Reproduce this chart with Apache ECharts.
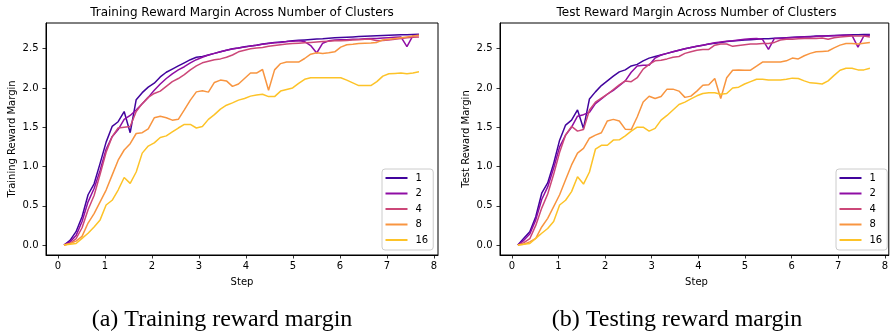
<!DOCTYPE html>
<html>
<head>
<meta charset="utf-8">
<script src="https://cdn.jsdelivr.net/npm/echarts@6/dist/echarts.min.js"></script>
<style>
html,body{margin:0;padding:0;background:#fff;}
#chart{width:891px;height:333px;}
</style>
</head>
<body>
<div id="chart"></div>
<script>
// ---------- data ----------
const clusterLabels = ['1', '2', '4', '8', '16'];
const steps = [0.128,0.256,0.384,0.512,0.640,0.768,0.896,1.024,1.152,1.280,
  1.408,1.536,1.664,1.792,1.920,2.048,2.176,2.304,2.432,2.560,
  2.688,2.816,2.944,3.072,3.200,3.328,3.456,3.584,3.712,3.840,
  3.968,4.096,4.224,4.352,4.480,4.608,4.736,4.864,4.992,5.120,
  5.248,5.376,5.504,5.632,5.760,5.888,6.016,6.144,6.272,6.400,
  6.528,6.656,6.784,6.912,7.040,7.168,7.296,7.424,7.552,7.680];
const xTicks = [0, 1, 2, 3, 4, 5, 6, 7, 8];
const yTicks = [0, 0.5, 1.0, 1.5, 2.0, 2.5];

const trainC1 = [0.00,0.06,0.17,0.36,0.64,0.78,1.04,1.31,1.51,1.57,
  1.70,1.43,1.85,1.94,2.01,2.06,2.14,2.20,2.24,2.28,
  2.32,2.36,2.39,2.40,2.42,2.44,2.46,2.48,2.50,2.51,
  2.525,2.535,2.545,2.56,2.57,2.578,2.585,2.592,2.60,2.606,
  2.612,2.617,2.622,2.627,2.633,2.638,2.642,2.646,2.65,2.654,
  2.658,2.661,2.664,2.667,2.67,2.673,2.676,2.678,2.681,2.684];
const trainC2 = [0.00,0.04,0.12,0.30,0.55,0.72,0.95,1.22,1.38,1.47,
  1.60,1.65,1.72,1.80,1.88,1.97,2.05,2.12,2.18,2.23,
  2.27,2.32,2.36,2.39,2.42,2.44,2.46,2.48,2.495,2.51,
  2.52,2.535,2.545,2.555,2.565,2.575,2.58,2.59,2.595,2.60,
  2.59,2.54,2.445,2.57,2.60,2.61,2.615,2.615,2.62,2.62,
  2.625,2.63,2.63,2.635,2.64,2.645,2.65,2.525,2.665,2.67];
const trainC4 = [0.00,0.02,0.08,0.22,0.45,0.63,0.90,1.18,1.38,1.49,
  1.50,1.51,1.70,1.80,1.88,1.93,1.96,2.02,2.08,2.12,
  2.17,2.23,2.28,2.32,2.34,2.36,2.37,2.39,2.42,2.46,
  2.48,2.50,2.51,2.515,2.53,2.54,2.55,2.56,2.565,2.57,
  2.575,2.58,2.585,2.59,2.595,2.60,2.60,2.605,2.61,2.615,
  2.62,2.62,2.60,2.605,2.61,2.62,2.63,2.64,2.645,2.65];
const trainC8 = [0.00,0.02,0.05,0.11,0.28,0.40,0.55,0.70,0.89,1.08,
  1.21,1.29,1.42,1.43,1.48,1.62,1.64,1.62,1.59,1.60,
  1.72,1.845,1.95,1.963,1.947,2.07,2.10,2.09,2.02,2.05,
  2.12,2.19,2.19,2.235,1.97,2.23,2.31,2.33,2.33,2.33,
  2.375,2.43,2.447,2.44,2.447,2.46,2.52,2.55,2.557,2.565,
  2.57,2.573,2.58,2.61,2.62,2.63,2.64,2.65,2.66,2.67];
const trainC16 = [0.00,0.01,0.02,0.085,0.15,0.23,0.32,0.51,0.57,0.70,
  0.86,0.785,0.93,1.17,1.26,1.30,1.37,1.39,1.44,1.49,
  1.535,1.535,1.49,1.51,1.60,1.66,1.73,1.78,1.81,1.845,
  1.866,1.896,1.91,1.92,1.89,1.89,1.96,1.98,2.00,2.057,
  2.11,2.13,2.13,2.13,2.13,2.13,2.13,2.10,2.065,2.03,
  2.03,2.03,2.08,2.15,2.18,2.185,2.19,2.18,2.19,2.205];

const testC1 = [0.00,0.085,0.17,0.36,0.66,0.79,1.04,1.335,1.527,1.59,
  1.72,1.485,1.86,1.95,2.03,2.09,2.15,2.205,2.23,2.28,
  2.30,2.345,2.38,2.40,2.42,2.44,2.46,2.48,2.50,2.515,
  2.53,2.545,2.56,2.57,2.58,2.59,2.597,2.604,2.61,2.615,
  2.62,2.625,2.628,2.632,2.636,2.64,2.644,2.648,2.652,2.656,
  2.66,2.663,2.666,2.669,2.672,2.674,2.676,2.678,2.68,2.682];
const testC2 = [0.00,0.06,0.14,0.32,0.58,0.74,0.98,1.25,1.40,1.50,
  1.64,1.66,1.69,1.80,1.86,1.92,1.97,2.03,2.09,2.20,
  2.28,2.29,2.29,2.38,2.42,2.44,2.46,2.48,2.50,2.515,
  2.53,2.545,2.56,2.575,2.585,2.595,2.60,2.61,2.62,2.625,
  2.63,2.62,2.49,2.63,2.63,2.635,2.64,2.645,2.65,2.65,
  2.655,2.66,2.66,2.665,2.668,2.67,2.67,2.52,2.665,2.67];
const testC4 = [0.00,0.03,0.08,0.25,0.47,0.65,0.90,1.18,1.40,1.51,
  1.45,1.47,1.72,1.82,1.87,1.92,1.98,2.04,2.09,2.08,
  2.13,2.24,2.30,2.345,2.354,2.37,2.39,2.40,2.44,2.46,
  2.48,2.49,2.49,2.545,2.56,2.56,2.53,2.54,2.55,2.56,
  2.56,2.566,2.566,2.58,2.61,2.62,2.62,2.625,2.63,2.63,
  2.63,2.635,2.62,2.64,2.65,2.655,2.66,2.66,2.66,2.65];
const testC8 = [0.00,0.01,0.04,0.085,0.23,0.34,0.49,0.64,0.83,1.02,
  1.17,1.23,1.36,1.40,1.43,1.58,1.60,1.58,1.475,1.47,
  1.63,1.82,1.895,1.866,1.89,1.985,1.985,1.96,1.88,1.896,
  1.96,2.035,2.04,2.12,1.866,2.13,2.226,2.23,2.226,2.226,
  2.277,2.33,2.33,2.33,2.33,2.345,2.38,2.37,2.41,2.44,
  2.46,2.465,2.47,2.51,2.545,2.566,2.566,2.56,2.57,2.58];
const testC16 = [0.00,0.01,0.02,0.085,0.15,0.21,0.30,0.51,0.57,0.68,
  0.87,0.776,0.93,1.22,1.27,1.27,1.336,1.34,1.39,1.45,
  1.50,1.50,1.45,1.485,1.59,1.65,1.72,1.79,1.82,1.86,
  1.90,1.93,1.94,1.94,1.92,1.93,2.00,2.01,2.05,2.08,
  2.11,2.11,2.10,2.10,2.10,2.11,2.125,2.12,2.09,2.065,
  2.06,2.05,2.09,2.16,2.226,2.25,2.25,2.23,2.23,2.25];

const trainSeries = [trainC1, trainC2, trainC4, trainC8, trainC16];
const testSeries = [testC1, testC2, testC4, testC8, testC16];

// ---------- style ----------
const colors = ['#41049d', '#8f0da4', '#cc4778', '#f89540', '#fdc328'];
const FONT = '"DejaVu Sans", sans-serif';
const SERIF = '"Liberation Serif", "Times New Roman", serif';

const X_MIN = -0.255, X_MAX = 8.085;
const Y_MIN = -0.127, Y_MAX = 2.827;

function xAxisCfg(idx) {
  return {
    gridIndex: idx, type: 'value', min: X_MIN, max: X_MAX,
    axisLine: { show: true, onZero: false, lineStyle: { color: '#000', width: 1 } },
    axisTick: { show: true, inside: false, length: 3.5, customValues: xTicks, lineStyle: { color: '#000', width: 0.8 } },
    axisLabel: { show: true, margin: 6, customValues: xTicks, fontSize: 10, fontFamily: FONT, color: '#000',
      formatter: v => String(Math.round(v)) },
    splitLine: { show: false }, minorTick: { show: false }
  };
}
function yAxisCfg(idx) {
  return {
    gridIndex: idx, type: 'value', min: Y_MIN, max: Y_MAX,
    axisLine: { show: true, onZero: false, lineStyle: { color: '#000', width: 1 } },
    axisTick: { show: true, inside: false, length: 3.5, customValues: yTicks, lineStyle: { color: '#000', width: 0.8 } },
    axisLabel: { show: true, margin: 7.5, customValues: yTicks, fontSize: 10, fontFamily: FONT, color: '#000',
      formatter: v => v.toFixed(1) },
    splitLine: { show: false }, minorTick: { show: false }
  };
}

const grids = [
  { left: 46, top: 23, width: 392, height: 232, show: true, borderColor: '#000', borderWidth: 1, backgroundColor: 'transparent' },
  { left: 500, top: 23, width: 393, height: 232, show: true, borderColor: '#000', borderWidth: 1, backgroundColor: 'transparent' }
];

const series = [];
[trainSeries, testSeries].forEach((group, gi) => {
  group.forEach((vals, k) => {
    series.push({
      name: clusterLabels[k], type: 'line', xAxisIndex: gi, yAxisIndex: gi,
      data: steps.map((s, i) => [s, vals[i]]),
      symbol: 'none', showSymbol: false, smooth: false,
      lineStyle: { width: 1.5, color: colors[k] }, itemStyle: { color: colors[k] },
      emphasis: { disabled: true }, animation: false
    });
  });
});

function legendCfg(left) {
  return {
    data: clusterLabels, orient: 'vertical', left: left, top: 169,
    icon: 'rect', itemWidth: 22, itemHeight: 2, itemGap: 3.5,
    padding: [3, 5, 4, 3.5],
    backgroundColor: 'rgba(255,255,255,0.8)', borderColor: '#cccccc', borderWidth: 1, borderRadius: 3,
    textStyle: { fontSize: 10, fontFamily: FONT, color: '#000', lineHeight: 12, padding: [0, 0, 0, 3] },
    selectedMode: false
  };
}

function txt(text, x, y, font, rot) {
  return {
    type: 'text', x: x, y: y, rotation: rot || 0, silent: true,
    style: { text: text, font: font, fill: '#000', textAlign: 'center', textVerticalAlign: 'middle' }
  };
}

const option = {
  backgroundColor: '#fff',
  animation: false,
  grid: grids,
  xAxis: [xAxisCfg(0), xAxisCfg(1)],
  yAxis: [yAxisCfg(0), yAxisCfg(1)],
  legend: [legendCfg(382), legendCfg(836)],
  series: series,
  graphic: [
    txt('Training Reward Margin Across Number of Clusters', 242, 13, '12px ' + FONT),
    txt('Test Reward Margin Across Number of Clusters', 696.5, 13, '12px ' + FONT),
    txt('Step', 242, 282, '10px ' + FONT),
    txt('Step', 696.5, 282, '10px ' + FONT),
    txt('Training Reward Margin', 12, 139, '10px ' + FONT, Math.PI / 2),
    txt('Test Reward Margin', 466, 139, '10px ' + FONT, Math.PI / 2),
    txt('(a) Training reward margin', 222, 320, '24px ' + SERIF),
    txt('(b) Testing reward margin', 677, 320, '24px ' + SERIF)
  ]
};

const chart = echarts.init(document.getElementById('chart'), null, { renderer: 'canvas' });
chart.setOption(option);
</script>
</body>
</html>
